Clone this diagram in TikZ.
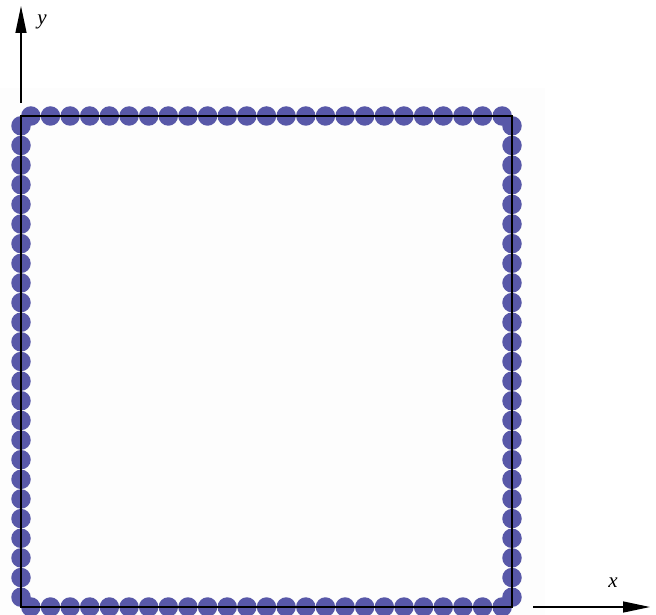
\documentclass[tikz,border=0pt]{standalone}
\usepackage{fontspec}
\setmainfont{Liberation Serif}
\usetikzlibrary{arrows.meta,positioning}

\definecolor{particle}{RGB}{88,88,168}
\definecolor{backdrop}{RGB}{253,253,253}

\begin{document}
\begin{tikzpicture}[x=1pt,y=-1pt,
    particle/.style={circle,fill=particle,inner sep=0pt,minimum size=19.5pt},
    wall/.style={draw=black,line width=2pt},
    axis/.style={line width=1.4pt,-{Triangle[length=27pt,width=11pt]}},
    axislabel/.style={font=\fontsize{21}{21}\selectfont\itshape}]
      \useasboundingbox (0,0) rectangle (656,615);
      \fill[backdrop] (0,88) rectangle (545,615);

      % corners of the box
      \coordinate (nw) at (21,116);
      \coordinate (ne) at (512,116);
      \coordinate (sw) at (21,607);
      \coordinate (se) at (512,607);

      % boundary particles, 25 on each side
      \foreach \k in {0,...,24} {
        \pgfmathsetmacro{\s}{(\k+0.5)*19.64}
        \node[particle] (top-\k) at (21+\s,116) {};
        \node[particle] (left-\k) at (21,116+\s) {};
        \node[particle] (bot-\k) at (21+\s,607) {};
        \node[particle] (right-\k) at (512,116+\s) {};
      }

      \draw[wall] (nw) -- (ne) -- (se) -- (sw) -- cycle;

      % axes
      \coordinate (y0) at (21,103);
      \coordinate (y1) at (21,6);
      \coordinate (x0) at (533,607);
      \coordinate (x1) at (650,607);
      \draw[axis] (y0) -- (y1);
      \draw[axis] (x0) -- (x1);
      \node[axislabel] (ylab) at (42,22) {y};
      \node[axislabel] (xlab) at (613,583) {x};
    \end{tikzpicture}
\end{document}
